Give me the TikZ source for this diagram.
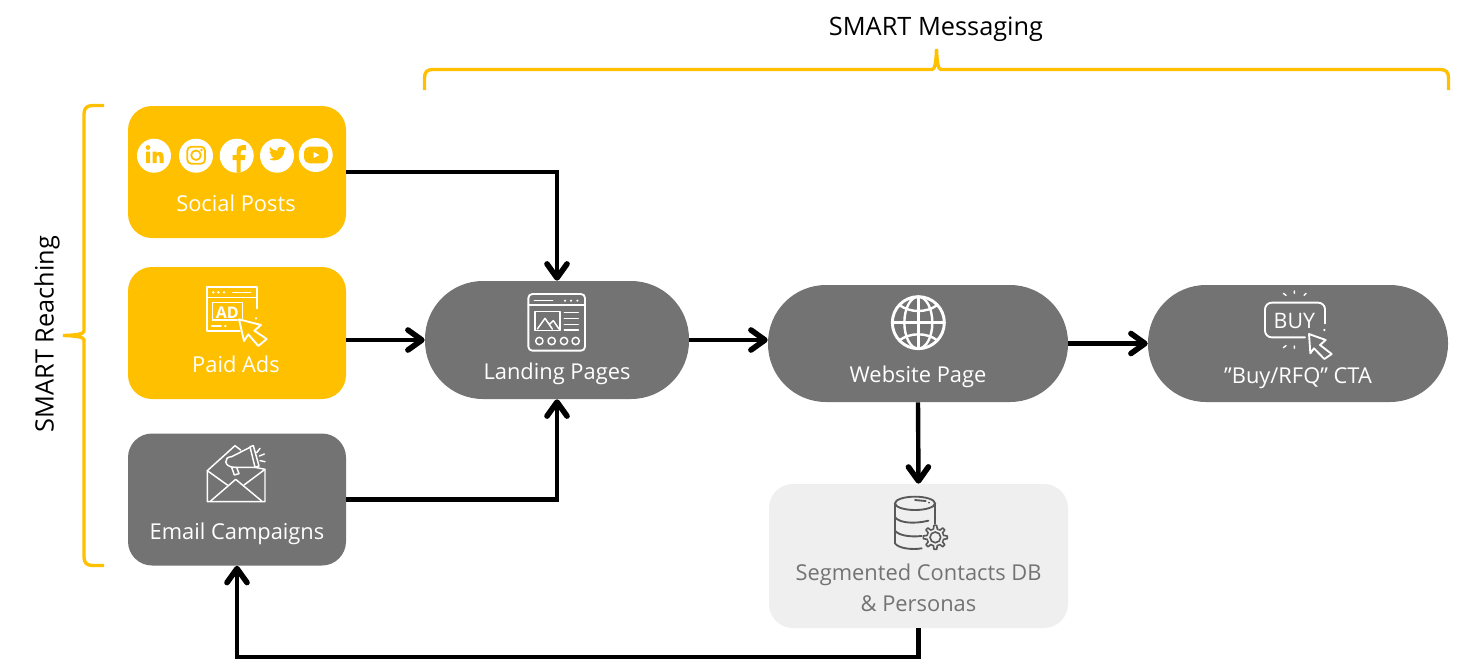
\documentclass[tikz,border=0pt]{standalone}
\usepackage{fontspec}
\setmainfont{Open Sans}
\usetikzlibrary{arrows.meta,positioning,shapes}
\definecolor{smartgold}{HTML}{FFC000}
\definecolor{smartgray}{HTML}{737373}
\definecolor{smartpale}{HTML}{EFEFEF}
\definecolor{smartink}{HTML}{595959}

% Twitter bird on a 24 unit grid
\newcommand{\birdpath}{(23.953,4.57) .. controls (23.1,5) and (22.1,5.2) .. (21.128,5.345)
  .. controls (22.1,4.8) and (22.9,3.8) .. (23.291,2.622) .. controls (22.34,3.177) and (21.286,3.581) .. (20.164,3.806)
  .. controls (18.2,1.4) and (10.6,3.2) .. (11.78,8.288) .. controls (7.69,8.095) and (4.067,6.13) .. (1.64,3.162)
  .. controls (1.2,3.9) and (0.974,4.75) .. (0.974,5.637) .. controls (0.974,7.347) and (1.844,8.85) .. (3.162,9.733)
  .. controls (2.35,9.7) and (1.6,9.5) .. (0.934,9.117) -- (0.934,9.177) .. controls (0.934,11.5) and (2.6,13.6) .. (4.88,14.004)
  .. controls (4.2,14.2) and (3.4,14.2) .. (2.668,14.089) .. controls (3.4,16.1) and (5.2,17.45) .. (7.272,17.506)
  .. controls (5.6,18.8) and (3.5,19.611) .. (1.17,19.611) .. controls (0.78,19.611) and (0.39,19.588) .. (0,19.544)
  .. controls (2.2,20.95) and (4.8,21.753) .. (7.557,21.753) .. controls (16.61,21.753) and (21.555,14.257) .. (21.555,7.768)
  .. controls (21.555,7.558) and (21.555,7.348) .. (21.54,7.138) .. controls (22.5,6.5) and (23.4,5.6) .. (24,4.59) -- cycle}

\begin{document}
\begin{tikzpicture}[
    x=0.75pt, y=-0.75pt,
    box/.style={rectangle, draw=none, inner sep=0pt, rounded corners=18pt, minimum width=163.5pt, minimum height=99pt},
    pill/.style={rectangle, draw=none, inner sep=0pt, fill=smartgray, rounded corners=43.5pt, minimum width=225pt, minimum height=87.75pt},
    lbl/.style={text=white, font=\fontsize{16.4pt}{18pt}\selectfont, inner sep=0pt},
    head/.style={text=black, font=\fontsize{19pt}{22pt}\selectfont, inner sep=0pt},
    arrow/.style={-{Straight Barb[length=10.5pt,width=15pt,round,line width=4.2pt]}, line width=3.3pt, black},
    brace/.style={draw=smartgold, line width=2.5pt},
    icon/.style={draw=white, line width=1.1pt, line cap=round, line join=round},
    zoomed/.style={x=0.25pt, y=-0.25pt}
  ]
    \useasboundingbox (0,0) rectangle (1483,661);

    \node[box, fill=smartgold] (social) at (237,172) {};
    \node[box, fill=smartgold] (paid) at (237,333) {};
    \node[box, fill=smartgray] (email) at (237,499.5) {};
    \node[pill, minimum width=198pt, minimum height=88.5pt] (landing) at (557,340) {};
    \node[pill] (website) at (918,343.5) {};
    \node[pill] (buy) at (1298,343.5) {};
    \node[box, fill=smartpale, minimum width=224.25pt, minimum height=108pt] (contacts) at (918.5,556) {};

    \node[lbl] (socialtxt) at (236,203) {Social Posts};
    \node[lbl] (paidtxt) at (236,364) {Paid Ads};
    \node[lbl] (emailtxt) at (237,533.5) {Email Campaigns};
    \node[lbl] (landingtxt) at (557,373.5) {Landing Pages};
    \node[lbl] (websitetxt) at (918,377) {Website Page};
    \node[lbl] (buytxt) at (1298,378) {”Buy/RFQ” CTA};
    \node[lbl, text=smartgray, align=center, font=\fontsize{16.4pt}{23pt}\selectfont] (contactstxt) at (918.5,587.5) {Segmented Contacts DB\\\& Personas};

    \node[head] (messaging) at (936,29) {SMART Messaging};
    \node[head, rotate=90] (reaching) at (47,334) {SMART Reaching};

    % connectors
    \draw[arrow] (social.east) -| (landing.north);
    \draw[arrow] (paid.east |- landing.west) -- (landing.west);
    \draw[arrow] (email.east) -| (landing.south);
    \draw[arrow] (landing.east) -- (landing.east -| website.west);
    \draw[arrow] (website.east) -- (buy.west);
    \draw[arrow] (website.south) -- (contacts.north);
    \draw[arrow] (contacts.south) -- ++(0,29) -| (email.south);

    % brackets
    \draw[brace] (424.5,90) -- (424.5,78) .. controls (424.5,72) and (427,69.5) .. (433,69.5) -- (932,69.5)
      .. controls (935,69.5) and (936,62) .. (936.5,49) .. controls (937,62) and (938,69.5) .. (941,69.5) -- (1440,69.5)
      .. controls (1446,69.5) and (1448.5,72) .. (1448.5,78) -- (1448.5,90);
    \draw[brace] (104,105.5) -- (93,105.5) .. controls (87,105.5) and (84,108) .. (84,114) -- (84,331)
      .. controls (84,334) and (76,335.2) .. (63,335.5) .. controls (76,335.8) and (84,337) .. (84,340) -- (84,557)
      .. controls (84,563) and (87,565.5) .. (93,565.5) -- (104,565.5);

    % social badges
    \foreach \cx/\cy in {154/155.7, 196/155.7, 236.7/155.7, 277/155.7, 315.7/155}
      \fill[white] (\cx,\cy) circle (17);
    \fill[smartgold] (146,151.5) rectangle (150,163) (148,147.5) circle (2.4);
    \fill[smartgold] (152.5,163) -- (152.5,151.5) -- (156.5,151.5) -- (156.5,153.5) .. controls (157.5,151.5) and (163.5,150) .. (163.5,157)
      -- (163.5,163) -- (159.5,163) -- (159.5,157.5) .. controls (159.5,154.5) and (156.5,154.5) .. (156.5,157.5) -- (156.5,163) -- cycle;
    \draw[smartgold, line width=1.3pt, rounded corners=3pt] (187.3,146.7) rectangle (205,163.7);
    \draw[smartgold, line width=1.3pt] (196,155.2) circle (4.8);
    \fill[smartgold] (201.5,150) circle (1.3);
    \fill[smartgold] (236.7,172.5) -- (236.7,160) -- (232.7,160) -- (232.7,155) -- (236.7,155) -- (236.7,151) .. controls (236.7,146.5) and (239,145) .. (246,145)
      -- (246,150) -- (243,150) .. controls (241,150) and (240.7,151) .. (240.7,152.5) -- (240.7,155) -- (245.5,155) -- (244.8,160) -- (240.7,160) -- (240.7,172.5) -- cycle;
    \begin{scope}[shift={(268.8,144.8)}, x=0.54pt, y=-0.54pt]
      \fill[smartgold] \birdpath;
    \end{scope}
    \fill[smartgold, rounded corners=4pt] (304,146.7) rectangle (328,163.3);
    \fill[white] (313.5,152) -- (319.5,155) -- (313.5,158) -- cycle;

    % ad window
    \begin{scope}[shift={(120,265)}, zoomed]
      \draw[icon, line width=1.4pt] (412,130) -- (412,65) -- (260,65) -- (260,198) -- (360,198);
      \draw[icon] (260,97) -- (412,97);
      \draw[icon] (338,82) -- (392,82) (275,183) -- (303,183);
      \foreach \dotx/\doty in {280/82, 295/82, 312/82, 316/183, 408/160}
        \fill[white] (\dotx,\doty) circle (4);
      \draw[icon] (277,165) -- (277,113) -- (367,113) -- (367,160);
      \draw[icon] (277,165) -- (352,165);
      \node[text=white, inner sep=0pt, font=\bfseries\fontsize{12pt}{13pt}\selectfont] (adtxt) at (322,142) {AD};
      \draw[icon, line width=1.4pt] (357,163) -- (423,180) -- (403,197) -- (440,222) -- (415,243) -- (385,208) -- (372,228) -- cycle;
    \end{scope}

    % envelope and megaphone
    \begin{scope}[shift={(120,430)}, zoomed]
      \draw[icon] (262,122) -- (262,215) -- (435,215) -- (435,118) -- (405,112);
      \draw[icon] (262,122) -- (345,47) -- (362,60);
      \draw[icon] (262,122) -- (322,165) (435,118) -- (372,165);
      \draw[icon] (272,213) -- (347,148) -- (425,213);
      \draw[icon] (335,80) -- (390,52) (345,112) -- (405,112);
      \draw[icon] (335,80) .. controls (310,80) and (310,112) .. (345,112);
      \draw[icon] (390,50) -- (400,47) -- (417,108) -- (405,112) -- cycle;
      \draw[icon] (335,112) -- (343,135) -- (357,131) -- (350,112);
      \draw[icon] (420,55) -- (410,68) (433,72) -- (418,78) (435,95) -- (420,92);
    \end{scope}

    % page layout
    \begin{scope}[shift={(480,280)}, zoomed]
      \draw[icon, line width=1.4pt, rounded corners=3pt] (145,42) rectangle (315,212);
      \draw[icon] (145,75) -- (315,75) (163,62) -- (218,62);
      \foreach \dotx in {255,273,292}
        \fill[white] (\dotx,62) circle (3.5);
      \draw[icon] (165,95) rectangle (240,152);
      \draw[icon] (172,147) -- (195,115) -- (217,147) (208,133) -- (220,122) -- (237,147);
      \foreach \liney in {97,115,133,150}
        \draw[icon] (253,\liney) -- (295,\liney);
      \foreach \dotx in {178,215,252,287}
        \draw[icon] (\dotx,183) circle (11);
    \end{scope}

    % globe
    \begin{scope}[shift={(860,285)}, zoomed]
      \draw[icon, line width=2.2pt] (175,113) circle (78);
      \draw[icon, line width=1.8pt] (175,35) -- (175,191) (97,113) -- (253,113);
      \draw[icon, line width=1.8pt] (175,113) ellipse (42 and 78);
      \draw[icon, line width=1.8pt] (118,60) .. controls (150,84) and (200,84) .. (232,60);
      \draw[icon, line width=1.8pt] (118,166) .. controls (150,142) and (200,142) .. (232,166);
    \end{scope}

    % buy button
    \begin{scope}[shift={(1230,280)}, zoomed]
      \draw[icon, line width=1.4pt, rounded corners=5pt] (285,130) -- (285,68) -- (105,68) -- (105,172) -- (225,172);
      \fill[white] (283,150) circle (4);
      \node[text=white, inner sep=0pt, font=\fontsize{16pt}{17pt}\selectfont] (buyicontxt) at (193,122) {BUY};
      \draw[icon] (160,40) -- (168,46) (193,33) -- (193,40) (228,40) -- (222,46);
      \draw[icon] (160,203) -- (168,197) (193,205) -- (193,198);
      \draw[icon, line width=1.4pt] (237,162) -- (287,180) -- (270,195) -- (305,222) -- (283,237) -- (252,205) -- (241,220) -- cycle;
    \end{scope}

    % database with gear
    \begin{scope}[shift={(860,480)}, zoomed]
      \begin{scope}[every path/.style={draw=smartink, line width=1.4pt, line cap=round}]
        \draw (165,70) ellipse (60 and 20);
        \draw (105,70) -- (105,190) .. controls (115,205) and (155,210) .. (185,205);
        \draw (225,70) -- (225,132);
        \draw (105,112) .. controls (120,130) and (165,132) .. (205,122);
        \draw (105,152) .. controls (115,165) and (145,172) .. (185,168);
        \draw (165,60) -- (197,63);
      \end{scope}
      \fill[smartink] (207,68) circle (3);
      \begin{scope}[shift={(226,172)}]
        \draw[smartink, line width=1.2pt] (0,0) circle (16);
        \foreach \a in {0,45,...,315}
          \draw[smartink, line width=1.2pt, line join=round] (\a-22.5:25) -- (\a-12:26) -- (\a-7:36) -- (\a+7:36) -- (\a+12:26) -- (\a+22.5:25);
      \end{scope}
    \end{scope}
  \end{tikzpicture}
\end{document}
